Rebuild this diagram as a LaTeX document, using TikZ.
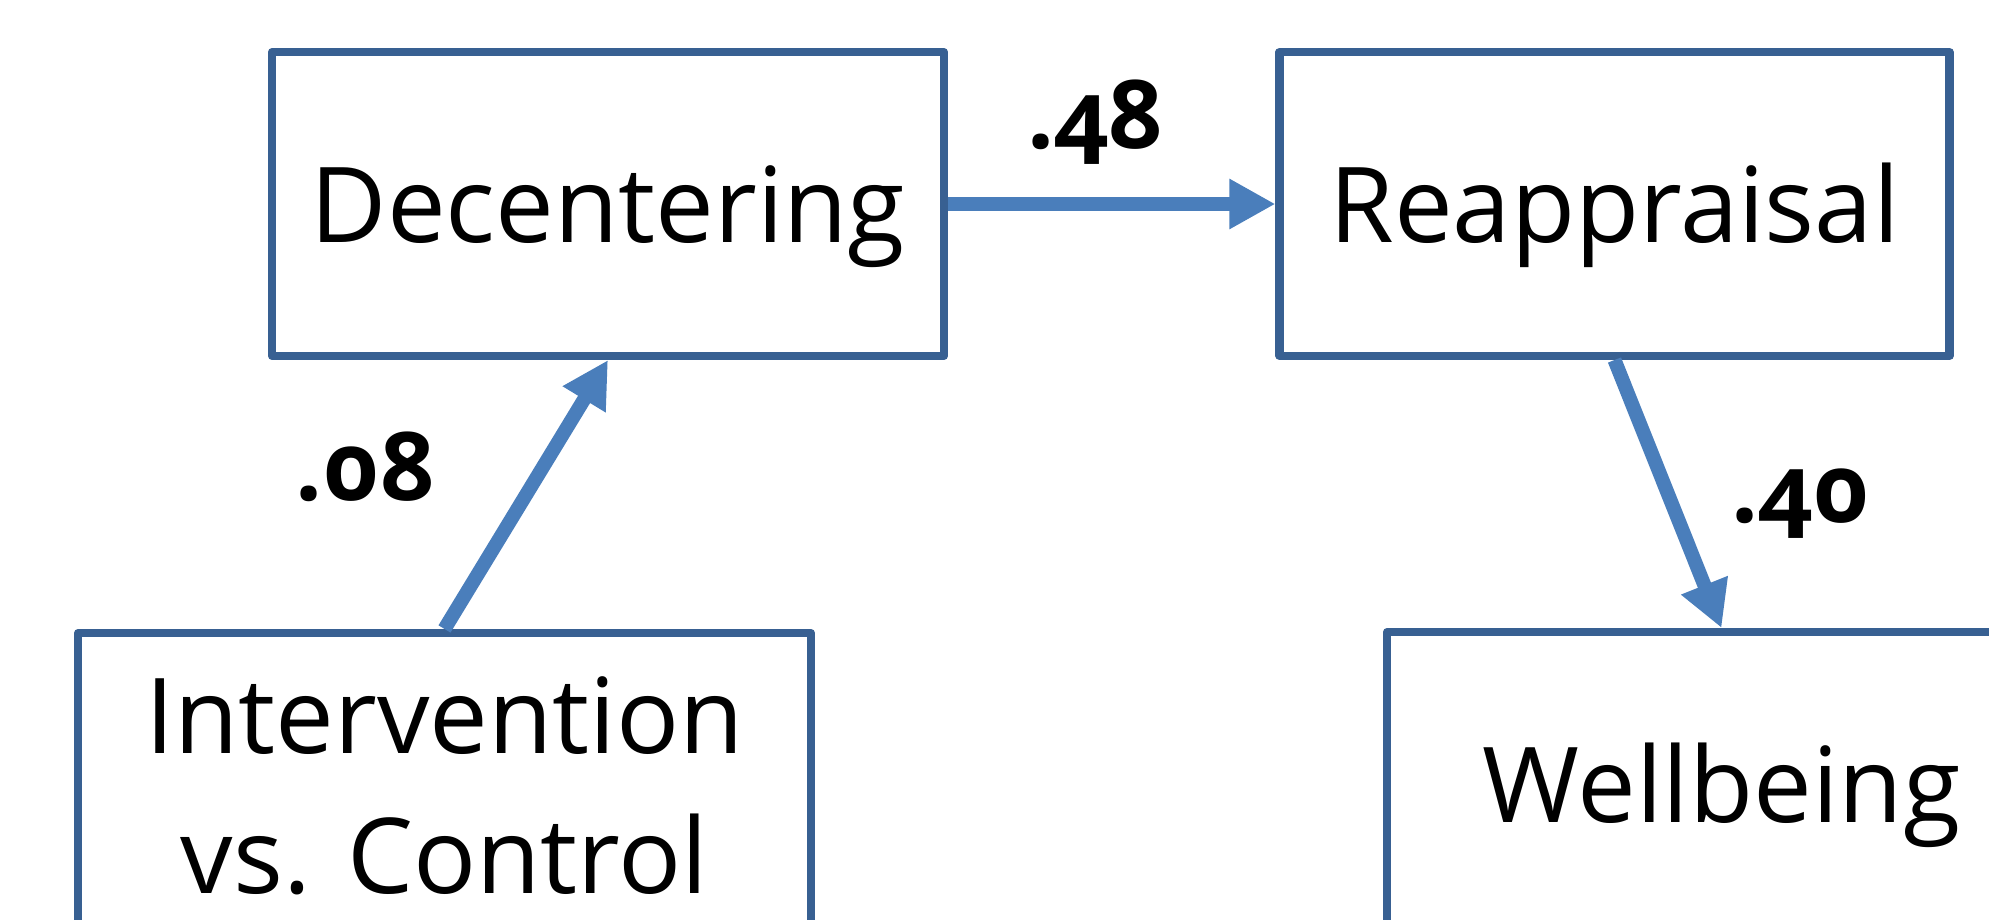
\documentclass[tikz,border=0pt]{standalone}
\usepackage{fontspec}
\setmainfont{Open Sans}[Ligatures=NoCommon]
\newfontfamily\coeffamily{Open Sans}[Numbers=OldStyle]
\usetikzlibrary{arrows.meta}
\definecolor{boxblue}{RGB}{56,96,146}
\definecolor{arrowblue}{RGB}{74,126,187}
\begin{document}
\begin{tikzpicture}[x=0.1mm,y=-0.1mm,
  box/.style={draw=boxblue, line width=2.3pt, line join=round, minimum height=30.4mm,
    inner sep=0pt, align=center, font=\fontsize{29.8}{40}\selectfont,
    text height=22pt, text depth=0pt},
  conn/.style={draw=arrowblue, line width=4pt, -{Triangle[length=13.1pt,width=13.4pt]}},
  coef/.style={anchor=base, inner sep=0pt, font=\fontsize{27}{32}\coeffamily\bfseries}]
\path[use as bounding box] (0,0) rectangle (1989,920);
\clip (0,0) rectangle (1989,920);
\node[box, minimum width=67.2mm] (dec) at (608,204) {Decentering};
\node[box, minimum width=67.0mm] (rea) at (1614.5,204) {Reappraisal};
\node[box, minimum width=73.3mm, text height=62pt] (int) at (444.5,785) {Intervention\\vs. Control};
\node[box, minimum width=66.9mm] (wel) at (1721.5,784) {Wellbeing};
\draw[conn] (dec) -- (rea);
\draw[conn] (int.north) -- (dec.south);
\draw[conn] (rea.south) -- (wel.north);
\node[coef] (l48) at (1095,148) {.48};
\node[coef] (l08) at (365,500) {.08};
\node[coef] (l40) at (1801,522) {.40};
\end{tikzpicture}
\end{document}
